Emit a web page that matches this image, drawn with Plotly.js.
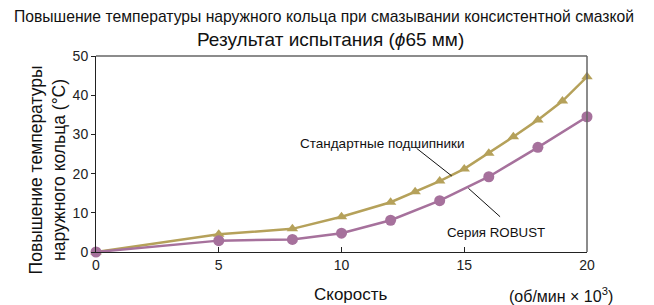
<!DOCTYPE html>
<html><head><meta charset="utf-8">
<script src="https://cdn.plot.ly/plotly-3.0.1.min.js"></script>
<style>body{margin:0;background:#fff}#c{width:654px;height:305px}</style>
</head><body><div id="c"></div>
<script>
const speedStd = [0, 5, 8, 10, 12, 13, 14, 15, 16, 17, 18, 19, 20];
const tempStd = [0, 4.5, 5.9, 9.0, 12.7, 15.4, 18.1, 21.2, 25.2, 29.4, 33.7, 38.5, 44.7];
const speedRob = [0, 5, 8, 10, 12, 14, 16, 18, 20];
const tempRob = [0, 2.9, 3.2, 4.8, 8.1, 13.1, 19.2, 26.7, 34.5];
const xTicks = [0, 5, 10, 15, 20];
const yTicks = [0, 10, 20, 30, 40, 50];

const F = '"Liberation Sans", Arial, sans-serif';
const gold = '#b5a15a', purple = '#a6719c';

const traces = [
  {x: speedStd, y: tempStd, mode: 'lines+markers', line: {color: gold, width: 2.5},
   marker: {symbol: 'triangle-up', size: 10, color: gold}, cliponaxis: false},
  {x: speedRob, y: tempRob, mode: 'lines+markers', line: {color: purple, width: 2.5},
   marker: {symbol: 'circle', size: 11, color: purple}, cliponaxis: false}
];

const layout = {
  width: 654, height: 305,
  margin: {l: 96, r: 67, t: 56, b: 53},
  paper_bgcolor: '#fff', plot_bgcolor: '#fff',
  showlegend: false,
  font: {family: F, size: 14, color: '#222'},
  xaxis: {range: [0, 20], tickvals: xTicks, ticks: 'inside', ticklen: 5, tickcolor: '#222',
    showgrid: false, zeroline: false, showline: true, linecolor: '#222', linewidth: 1,
    tickfont: {size: 14}},
  yaxis: {range: [0, 50], tickvals: yTicks, ticks: 'outside', ticklen: 4, tickcolor: '#222',
    showgrid: false, zeroline: false, showline: true, linecolor: '#222', linewidth: 1,
    tickfont: {size: 14}},
  shapes: [
    {type: 'line', xref: 'paper', yref: 'paper', x0: 0, x1: 1, y0: 1, y1: 1, line: {color: '#666', width: 1.5}},
    {type: 'line', xref: 'paper', yref: 'paper', x0: 1, x1: 1, y0: 0, y1: 1, line: {color: '#666', width: 1.5}},
    {type: 'line', xref: 'x', yref: 'y', x0: 13.06, y0: 26.45, x1: 14.49, y1: 19.4, line: {color: '#111', width: 1}},
    {type: 'line', xref: 'x', yref: 'y', x0: 15.17, y0: 16.25, x1: 16.46, y1: 9.0, line: {color: '#111', width: 1}}
  ],
  annotations: [
    {text: 'Повышение температуры наружного кольца при смазывании консистентной смазкой', xref: 'paper', yref: 'paper',
     x: 0.464, y: 1.199, xanchor: 'center', yanchor: 'middle', showarrow: false,
     font: {family: '"Liberation Sans Narrow", "Liberation Sans", Arial', size: 15.7, color: '#111'}},
    {text: 'Результат испытания (<i>ϕ</i>65 мм)', xref: 'paper', yref: 'paper', x: 0.477, y: 1.082,
     xanchor: 'center', yanchor: 'middle', showarrow: false, font: {size: 19, color: '#111'}},
    {text: 'Повышение температуры<br>наружного кольца (°C)', xref: 'paper', yref: 'paper', x: -0.147, y: 0.418,
     textangle: -90, showarrow: false, font: {size: 17.5, color: '#111'}},
    {text: 'Скорость', xref: 'paper', yref: 'paper', x: 0.52, y: -0.219, xanchor: 'center', yanchor: 'middle', showarrow: false,
     font: {size: 17, color: '#111'}},
    {text: '(об/мин × 10<sup>3</sup>)', xref: 'paper', yref: 'paper', x: 1.057, y: -0.219, xanchor: 'right', yanchor: 'middle',
     showarrow: false, font: {size: 16, color: '#111'}},
    {text: 'Стандартные подшипники', xref: 'x', yref: 'y', x: 11.65, y: 27.8, showarrow: false,
     font: {size: 13.5, color: '#111'}},
    {text: 'Серия ROBUST', xref: 'x', yref: 'y', x: 16.31, y: 5.1, showarrow: false,
     font: {size: 13.3, color: '#111'}}
  ]
};
Plotly.newPlot('c', traces, layout, {displayModeBar: false, staticPlot: true});
</script></body></html>
